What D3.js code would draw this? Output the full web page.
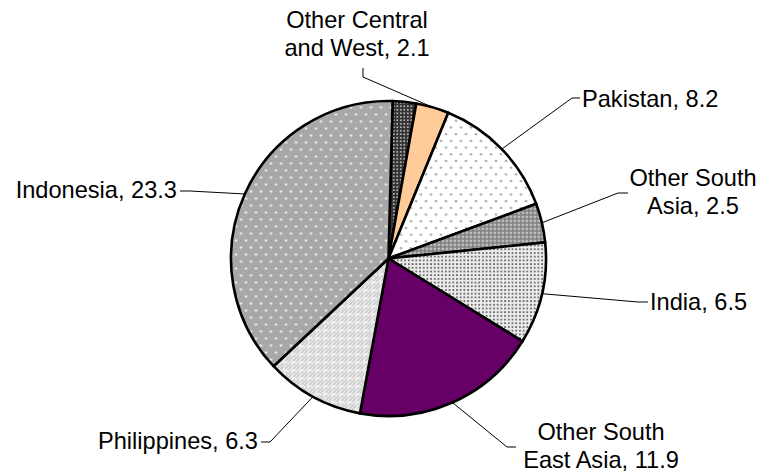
<!DOCTYPE html>
<html>
<head>
<meta charset="utf-8">
<script src="https://cdn.jsdelivr.net/npm/d3@7"></script>
<style>
body { margin: 0; background: #fff; }
.labels text { font-family: "Liberation Sans", Arial, sans-serif; font-size: 23.6px; fill: #000; }
</style>
</head>
<body>
<div class="sourcePie"></div>
<script>
var width = 764, height = 475;

// chart values (clockwise from 12 o'clock)
var categories = ['Other', 'Other Central and West', 'Pakistan', 'Other South Asia', 'India', 'Other South East Asia', 'Philippines', 'Indonesia'];
var values = [1.5, 2.1, 8.2, 2.5, 6.5, 11.9, 6.3, 23.3];
var showLabel = [false, true, true, true, true, true, true, true];

// fill for each slice (pattern ids or colours)
var fills = ['url(#pDark)', '#ffcc99', 'url(#pSparse)', 'url(#pGrid)', 'url(#pFine)', '#660066', 'url(#pZig)', 'url(#pIndo)'];

// where each label sits: elbow of the leader line, end of the short tick, text position
var labelLayout = [
    null,
    { elbow: [363, 77], end: [363, 68], x: 357, y: 28, anchor: 'middle', wrap: 2 },
    { elbow: [572, 98], end: [580, 98], x: 582, y: 106.5, anchor: 'start', wrap: 0 },
    { elbow: [618, 193], end: [628, 193], x: 693, y: 186, anchor: 'middle', wrap: 2 },
    { elbow: [638, 302], end: [648, 302], x: 650, y: 309.5, anchor: 'start', wrap: 0 },
    { elbow: [507, 447], end: [516, 447], x: 601, y: 440, anchor: 'middle', wrap: 2 },
    { elbow: [270, 442], end: [261, 442], x: 258, y: 448.5, anchor: 'end', wrap: 0 },
    { elbow: [190, 191], end: [180, 191], x: 177, y: 197.5, anchor: 'end', wrap: 0 }
];

var cx = 388.5, cy = 258.5, radius = 157.5;
var startOffset = 1.5 * Math.PI / 180;

function drawPie() {
    var svg = d3.select('.sourcePie')
        .append('svg')
        .attr('width', width)
        .attr('height', height);

    makePatterns(svg.append('defs'));

    var data = categories.map(function(c, i) {
        return { name: c, value: values[i], fill: fills[i], show: showLabel[i], layout: labelLayout[i] };
    });

    var pie = d3.pie()
        .sort(null)
        .startAngle(startOffset)
        .endAngle(startOffset + 2 * Math.PI)
        .value(function(d) { return d.value; })
        (data);

    var arc = d3.arc()
        .innerRadius(0)
        .outerRadius(radius);

    // point on the rim at the middle of the slice
    var rim = d3.arc()
        .innerRadius(radius)
        .outerRadius(radius);

    var g = svg.append('g')
        .attr('transform', 'translate(' + cx + ',' + cy + ')');

    g.selectAll('path.slice')
        .data(pie)
        .enter()
        .append('path')
        .attr('class', 'slice')
        .attr('d', arc)
        .attr('fill', function(d) { return d.data.fill; })
        .attr('stroke', '#000')
        .attr('stroke-width', 2.6)
        .attr('stroke-linejoin', 'round');

    var labelled = pie.filter(function(d) { return d.data.show; });

    // leader lines
    svg.append('g')
        .selectAll('polyline')
        .data(labelled)
        .enter()
        .append('polyline')
        .attr('points', function(d) {
            var p = rim.centroid(d);
            var L = d.data.layout;
            return [[p[0] + cx, p[1] + cy], L.elbow, L.end].map(function(q) { return q.join(','); }).join(' ');
        })
        .attr('fill', 'none')
        .attr('stroke', '#000')
        .attr('stroke-width', 1);

    // label text, some wrapped on two lines
    var text = svg.append('g')
        .attr('class', 'labels')
        .selectAll('text')
        .data(labelled)
        .enter()
        .append('text')
        .attr('x', function(d) { return d.data.layout.x; })
        .attr('y', function(d) { return d.data.layout.y; })
        .attr('text-anchor', function(d) { return d.data.layout.anchor; });

    text.each(function(d) {
        var full = d.data.name + ', ' + d.data.value.toFixed(1);
        var words = full.split(' ');
        var n = d.data.layout.wrap;
        var lines = n ? [words.slice(0, n).join(' '), words.slice(n).join(' ')] : [full];
        var t = d3.select(this);
        lines.forEach(function(line, i) {
            t.append('tspan')
                .attr('x', d.data.layout.x)
                .attr('dy', i ? 27.5 : 0)
                .text(line);
        });
    });
}

function makePatterns(defs) {
    // dark, small light dots
    var p = defs.append('pattern').attr('id', 'pDark').attr('patternUnits', 'userSpaceOnUse').attr('width', 3.5).attr('height', 3.5);
    p.append('rect').attr('width', 3.5).attr('height', 3.5).attr('fill', '#333');
    p.append('rect').attr('x', 1).attr('y', 1).attr('width', 1.6).attr('height', 1.6).attr('fill', '#c8c8c8');

    // white, sparse grey dots
    p = defs.append('pattern').attr('id', 'pSparse').attr('patternUnits', 'userSpaceOnUse').attr('width', 10).attr('height', 13.4);
    p.append('rect').attr('width', 10).attr('height', 13.4).attr('fill', '#fff');
    p.append('circle').attr('cx', 2.5).attr('cy', 3).attr('r', 1.1).attr('fill', '#8a8a8a');
    p.append('circle').attr('cx', 7.5).attr('cy', 9.7).attr('r', 1.1).attr('fill', '#8a8a8a');

    // grey grid with light squares
    p = defs.append('pattern').attr('id', 'pGrid').attr('patternUnits', 'userSpaceOnUse').attr('width', 4).attr('height', 4);
    p.append('rect').attr('width', 4).attr('height', 4).attr('fill', '#777');
    p.append('rect').attr('x', 1.2).attr('y', 1.2).attr('width', 2.4).attr('height', 2.4).attr('fill', '#d4d4d4');

    // fine grey dots on white
    p = defs.append('pattern').attr('id', 'pFine').attr('patternUnits', 'userSpaceOnUse').attr('width', 3.7).attr('height', 3.7);
    p.append('rect').attr('width', 3.7).attr('height', 3.7).attr('fill', '#ececec');
    p.append('rect').attr('x', 1).attr('y', 1).attr('width', 1.8).attr('height', 1.8).attr('fill', '#6a6a6a');

    // zig zag weave
    p = defs.append('pattern').attr('id', 'pZig').attr('patternUnits', 'userSpaceOnUse').attr('width', 8).attr('height', 8);
    p.append('rect').attr('width', 8).attr('height', 8).attr('fill', '#fff');
    p.append('path')
        .attr('d', 'M0,6 L2,6 L2,4 L4,4 L4,2 L6,2 L6,0 M6,8 L8,8 M0,2 L2,2 L2,0 M4,8 L4,6 L6,6 L6,4 L8,4 L8,2')
        .attr('fill', 'none').attr('stroke', '#b4b4b4').attr('stroke-width', 1.1);

    // checker for the Indonesia slice
    var c = defs.append('pattern').attr('id', 'pChk').attr('patternUnits', 'userSpaceOnUse').attr('width', 2).attr('height', 2);
    c.append('rect').attr('width', 2).attr('height', 2).attr('fill', '#8c8c8c');
    c.append('rect').attr('width', 1).attr('height', 1).attr('fill', '#c4c4c4');
    c.append('rect').attr('x', 1).attr('y', 1).attr('width', 1).attr('height', 1).attr('fill', '#c4c4c4');

    p = defs.append('pattern').attr('id', 'pIndo').attr('patternUnits', 'userSpaceOnUse').attr('width', 10).attr('height', 14);
    p.append('rect').attr('width', 10).attr('height', 14).attr('fill', 'url(#pChk)');
    p.append('rect').attr('x', 1.5).attr('y', 2).attr('width', 2).attr('height', 2).attr('fill', '#fff');
    p.append('rect').attr('x', 6.5).attr('y', 9).attr('width', 2).attr('height', 2).attr('fill', '#fff');
}

drawPie();
</script>
</body>
</html>
